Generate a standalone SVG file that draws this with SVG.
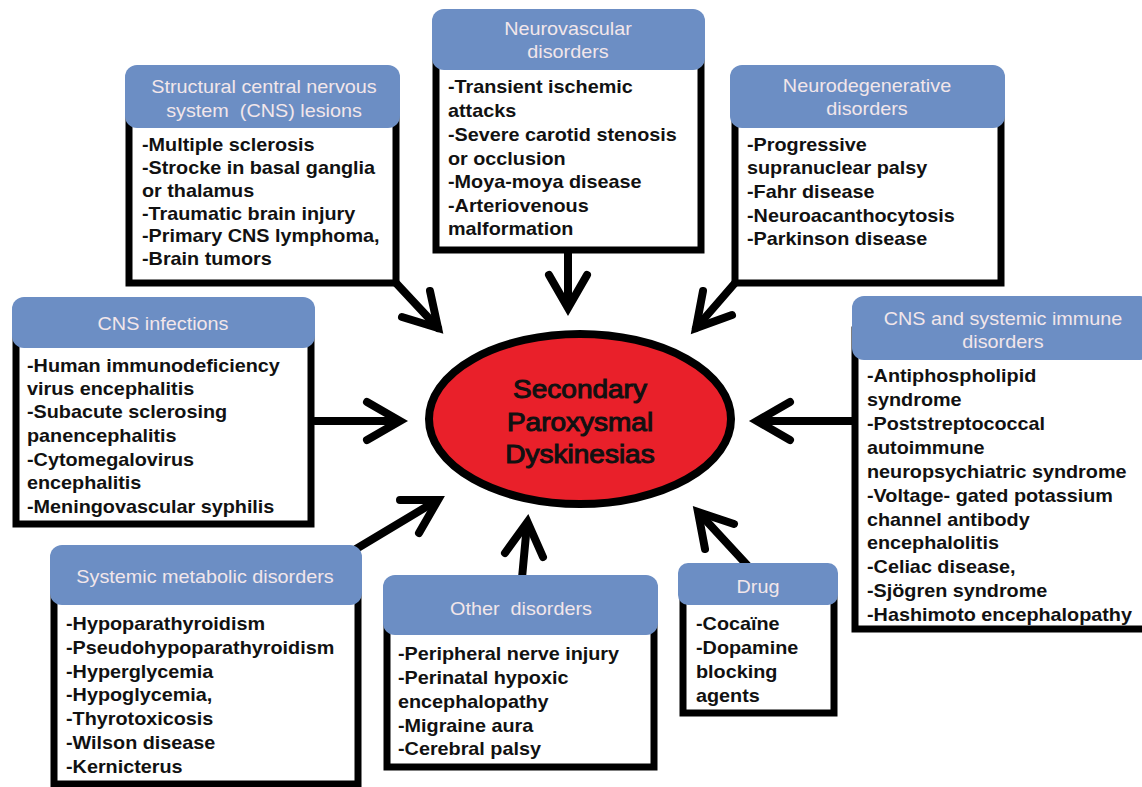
<svg xmlns="http://www.w3.org/2000/svg" width="1142" height="787" viewBox="0 0 1142 787">
<style>
.body{fill:#ffffff;stroke:#000;stroke-width:7}
.hdr{fill:#6c8ec4}
.ht{font-family:"Liberation Sans",Arial,sans-serif;font-size:18px;fill:#f2e6ea;text-anchor:middle;white-space:pre}
.bt{font-family:"Liberation Sans",Arial,sans-serif;font-size:18px;font-weight:bold;fill:#111}
.ln{stroke:#000;stroke-width:8;fill:none;stroke-linecap:round}
.hd{stroke:#000;stroke-width:8;fill:none;stroke-linecap:round;stroke-linejoin:miter;stroke-miterlimit:10}
.ct{font-family:"Liberation Sans",Arial,sans-serif;font-size:25px;fill:#111;stroke:#111;stroke-width:1;text-anchor:middle}
</style>
<rect width="1142" height="787" fill="#ffffff"/>
<g id="connectors">
<path class="ln" d="M396,283 L438,328"/><path class="hd" d="M430,291 L438,328 L402,317"/>
<path class="ln" d="M568,250 L568,306"/><path class="hd" d="M549,275 L568,308 L587,275"/>
<path class="ln" d="M735,283 L696,328"/><path class="hd" d="M703,291 L696,328 L732,315"/>
<path class="ln" d="M315,421 L398,421"/><path class="hd" d="M367,402 L400,421 L367,440"/>
<path class="ln" d="M852,421 L759,421"/><path class="hd" d="M790,402 L757,421 L790,440"/>
<path class="ln" d="M356,549 L436,501"/><path class="hd" d="M400,500 L438,500 L419,533"/>
<path class="ln" d="M522,578 L527,524"/><path class="hd" d="M505,553 L527.5,522 L543,557"/>
<path class="ln" d="M748,566 L700,514"/><path class="hd" d="M705,549 L698,512 L734,524"/>
</g>
<g id="center">
<ellipse cx="580" cy="419" rx="151" ry="85" fill="#e9202a" stroke="#000" stroke-width="8"/>
<g transform="translate(580,0) scale(1.12,1)">
<text class="ct" x="0" y="398">Secondary</text>
<text class="ct" x="0" y="431">Paroxysmal</text>
<text class="ct" x="0" y="463">Dyskinesias</text>
</g>
</g>
<g id="structural">
<rect class="body" x="129" y="100" width="267" height="183"/>
<rect class="hdr" x="125" y="65" width="275" height="63" rx="12"/>
<g transform="translate(264,0) scale(1.1,1)"><text class="ht" x="0" y="93">Structural central nervous</text><text class="ht" x="0" y="117">system  (CNS) lesions</text></g>
<g transform="translate(142,0) scale(1.1,1)">
<text class="bt" x="0" y="151">-Multiple sclerosis</text>
<text class="bt" x="0" y="174">-Strocke in basal ganglia</text>
<text class="bt" x="0" y="197">or thalamus</text>
<text class="bt" x="0" y="220">-Traumatic brain injury</text>
<text class="bt" x="0" y="242">-Primary CNS lymphoma,</text>
<text class="bt" x="0" y="265">-Brain tumors</text>
</g>
</g>
<g id="neurovascular">
<rect class="body" x="436" y="40" width="265" height="210"/>
<rect class="hdr" x="432" y="9" width="273" height="61" rx="12"/>
<g transform="translate(568,0) scale(1.1,1)"><text class="ht" x="0" y="35">Neurovascular</text><text class="ht" x="0" y="58">disorders</text></g>
<g transform="translate(448,0) scale(1.1,1)">
<text class="bt" x="0" y="93">-Transient ischemic</text>
<text class="bt" x="0" y="117">attacks</text>
<text class="bt" x="0" y="141">-Severe carotid stenosis</text>
<text class="bt" x="0" y="165">or occlusion</text>
<text class="bt" x="0" y="188">-Moya-moya disease</text>
<text class="bt" x="0" y="212">-Arteriovenous</text>
<text class="bt" x="0" y="235">malformation</text>
</g>
</g>
<g id="neurodegenerative">
<rect class="body" x="735" y="100" width="266" height="183"/>
<rect class="hdr" x="730" y="65" width="275" height="63" rx="12"/>
<g transform="translate(867,0) scale(1.1,1)"><text class="ht" x="0" y="92">Neurodegenerative</text><text class="ht" x="0" y="115">disorders</text></g>
<g transform="translate(747,0) scale(1.1,1)">
<text class="bt" x="0" y="151">-Progressive</text>
<text class="bt" x="0" y="174">supranuclear palsy</text>
<text class="bt" x="0" y="198">-Fahr disease</text>
<text class="bt" x="0" y="222">-Neuroacanthocytosis</text>
<text class="bt" x="0" y="245">-Parkinson disease</text>
</g>
</g>
<g id="infections">
<rect class="body" x="16" y="330" width="295" height="194"/>
<rect class="hdr" x="12" y="297" width="303" height="51" rx="12"/>
<g transform="translate(163,0) scale(1.1,1)"><text class="ht" x="0" y="330">CNS infections</text></g>
<g transform="translate(27,0) scale(1.1,1)">
<text class="bt" x="0" y="372">-Human immunodeficiency</text>
<text class="bt" x="0" y="395">virus encephalitis</text>
<text class="bt" x="0" y="418">-Subacute sclerosing</text>
<text class="bt" x="0" y="442">panencephalitis</text>
<text class="bt" x="0" y="466">-Cytomegalovirus</text>
<text class="bt" x="0" y="489">encephalitis</text>
<text class="bt" x="0" y="513">-Meningovascular syphilis</text>
</g>
</g>
<g id="immune">
<rect class="body" x="855" y="330" width="300" height="299"/>
<rect class="hdr" x="852" y="296" width="300" height="64" rx="12"/>
<g transform="translate(1003,0) scale(1.1,1)"><text class="ht" x="0" y="325">CNS and systemic immune</text><text class="ht" x="0" y="348">disorders</text></g>
<g transform="translate(867,0) scale(1.1,1)">
<text class="bt" x="0" y="382">-Antiphospholipid</text>
<text class="bt" x="0" y="406">syndrome</text>
<text class="bt" x="0" y="430">-Poststreptococcal</text>
<text class="bt" x="0" y="454">autoimmune</text>
<text class="bt" x="0" y="478">neuropsychiatric syndrome</text>
<text class="bt" x="0" y="502">-Voltage- gated potassium</text>
<text class="bt" x="0" y="526">channel antibody</text>
<text class="bt" x="0" y="549">encephalolitis</text>
<text class="bt" x="0" y="573">-Celiac disease,</text>
<text class="bt" x="0" y="597">-Sjögren syndrome</text>
<text class="bt" x="0" y="621">-Hashimoto encephalopathy</text>
</g>
</g>
<g id="metabolic">
<rect class="body" x="54" y="580" width="304" height="204"/>
<rect class="hdr" x="50" y="545" width="312" height="60" rx="12"/>
<g transform="translate(205,0) scale(1.1,1)"><text class="ht" x="0" y="583">Systemic metabolic disorders</text></g>
<g transform="translate(66,0) scale(1.1,1)">
<text class="bt" x="0" y="630">-Hypoparathyroidism</text>
<text class="bt" x="0" y="654">-Pseudohypoparathyroidism</text>
<text class="bt" x="0" y="678">-Hyperglycemia</text>
<text class="bt" x="0" y="701">-Hypoglycemia,</text>
<text class="bt" x="0" y="725">-Thyrotoxicosis</text>
<text class="bt" x="0" y="749">-Wilson disease</text>
<text class="bt" x="0" y="773">-Kernicterus</text>
</g>
</g>
<g id="other">
<rect class="body" x="387" y="610" width="267" height="157"/>
<rect class="hdr" x="383" y="575" width="275" height="60" rx="12"/>
<g transform="translate(521,0) scale(1.1,1)"><text class="ht" x="0" y="615">Other  disorders</text></g>
<g transform="translate(398,0) scale(1.1,1)">
<text class="bt" x="0" y="660">-Peripheral nerve injury</text>
<text class="bt" x="0" y="684">-Perinatal hypoxic</text>
<text class="bt" x="0" y="708">encephalopathy</text>
<text class="bt" x="0" y="732">-Migraine aura</text>
<text class="bt" x="0" y="755">-Cerebral palsy</text>
</g>
</g>
<g id="drug">
<rect class="body" x="683" y="590" width="151" height="123"/>
<rect class="hdr" x="678" y="563" width="160" height="42" rx="10"/>
<g transform="translate(758,0) scale(1.1,1)"><text class="ht" x="0" y="593">Drug</text></g>
<g transform="translate(696,0) scale(1.1,1)">
<text class="bt" x="0" y="630">-Cocaïne</text>
<text class="bt" x="0" y="654">-Dopamine</text>
<text class="bt" x="0" y="678">blocking</text>
<text class="bt" x="0" y="702">agents</text>
</g>
</g>
</svg>
